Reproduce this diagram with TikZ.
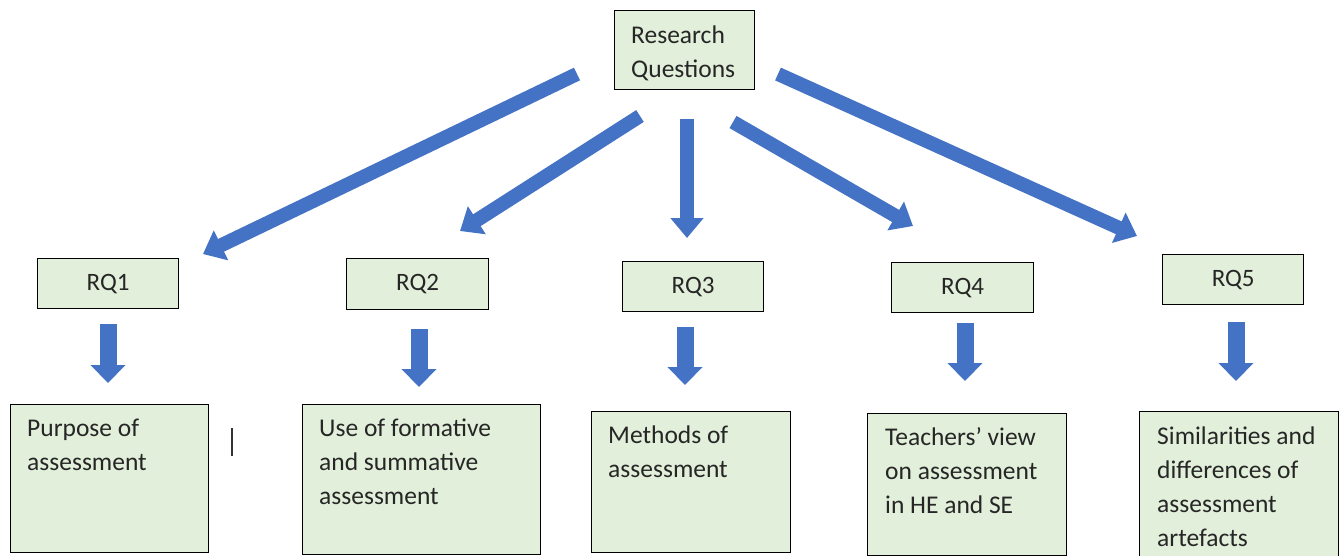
\documentclass[tikz,border=0pt]{standalone}
\usepackage{fontspec}
\setmainfont{Carlito}
\usetikzlibrary{arrows.meta}
\definecolor{boxgreen}{HTML}{E2EFDA}
\definecolor{arrowblue}{HTML}{4472C4}
\tikzset{
  box/.style={draw=black, line width=1.3pt, fill=boxgreen, inner sep=0pt, anchor=north west,
              font=\fontsize{25}{34}\selectfont, text=black!85},
  txt/.style={anchor=base west, align=left, inner sep=0pt, font=\fontsize{25.5}{34}\selectfont, text=black!85},
  bigarrow/.style={draw=arrowblue, line width=14pt, -{Triangle[length=20pt,width=32pt]}},
  downarrow/.style={draw=arrowblue, line width=17pt, -{Triangle[length=18pt,width=34pt]}},
}
\begin{document}
\begin{tikzpicture}[x=1pt, y=-1pt]
\useasboundingbox (0,0) rectangle (1339,555);

% top box
\node[box, minimum width=140pt, minimum height=79pt] (rq) at (614,10) {};
\node[txt] (rqt) at (631,77) {Research\\Questions};

% RQ boxes
\node[box, minimum width=141pt, minimum height=50pt] (rq1) at (37,258) {RQ1};
\node[box, minimum width=142pt, minimum height=51pt] (rq2) at (346,258) {RQ2};
\node[box, minimum width=141pt, minimum height=50pt] (rq3) at (622,261) {RQ3};
\node[box, minimum width=142pt, minimum height=50pt] (rq4) at (891,262) {RQ4};
\node[box, minimum width=141pt, minimum height=50pt] (rq5) at (1162,254) {RQ5};

% bottom boxes
\node[box, minimum width=198pt, minimum height=148pt] (b1) at (10,404) {};
\node[box, minimum width=238pt, minimum height=150pt] (b2) at (302,404) {};
\node[box, minimum width=199pt, minimum height=141pt] (b3) at (591,411) {};
\node[box, minimum width=199pt, minimum height=142pt] (b4) at (867,413) {};
\node[box, minimum width=199pt, minimum height=150pt] (b5) at (1139,411) {};

% texts (anchored at the baseline of the last line)
\node[txt] (t1) at (27,470) {Purpose of\\assessment};
\node[txt] (t2) at (319,504) {Use of formative\\and summative\\assessment};
\node[txt] (t3) at (608,477) {Methods of\\assessment};
\node[txt] (t4) at (885,513) {Teachers’ view\\on assessment\\in HE and SE};
\node[txt] (t5) at (1157,546) {Similarities and\\differences of\\assessment\\artefacts};

% cursor mark
\draw[line width=1.5pt, black!80] (232,428) -- (232,456);

% arrow end points
\coordinate (a1s) at (577,74);   \coordinate (a1e) at (203,254);
\coordinate (a2s) at (640,116);  \coordinate (a2e) at (460,231);
\coordinate (a3s) at (687,119);  \coordinate (a3e) at (687,238);
\coordinate (a4s) at (733,122);  \coordinate (a4e) at (913,226);
\coordinate (a5s) at (778,74);   \coordinate (a5e) at (1137,236);
\coordinate (d1s) at (108,324);  \coordinate (d1e) at (108,383);
\coordinate (d2s) at (419,329);  \coordinate (d2e) at (419,387);
\coordinate (d3s) at (685,327);  \coordinate (d3e) at (685,385);
\coordinate (d4s) at (965,323);  \coordinate (d4e) at (965,381);
\coordinate (d5s) at (1236,322); \coordinate (d5e) at (1236,381);

\draw[bigarrow] (a1s) -- (a1e);
\draw[bigarrow] (a2s) -- (a2e);
\draw[bigarrow] (a3s) -- (a3e);
\draw[bigarrow] (a4s) -- (a4e);
\draw[bigarrow] (a5s) -- (a5e);
\draw[downarrow] (d1s) -- (d1e);
\draw[downarrow] (d2s) -- (d2e);
\draw[downarrow] (d3s) -- (d3e);
\draw[downarrow] (d4s) -- (d4e);
\draw[downarrow] (d5s) -- (d5e);
\end{tikzpicture}
\end{document}
